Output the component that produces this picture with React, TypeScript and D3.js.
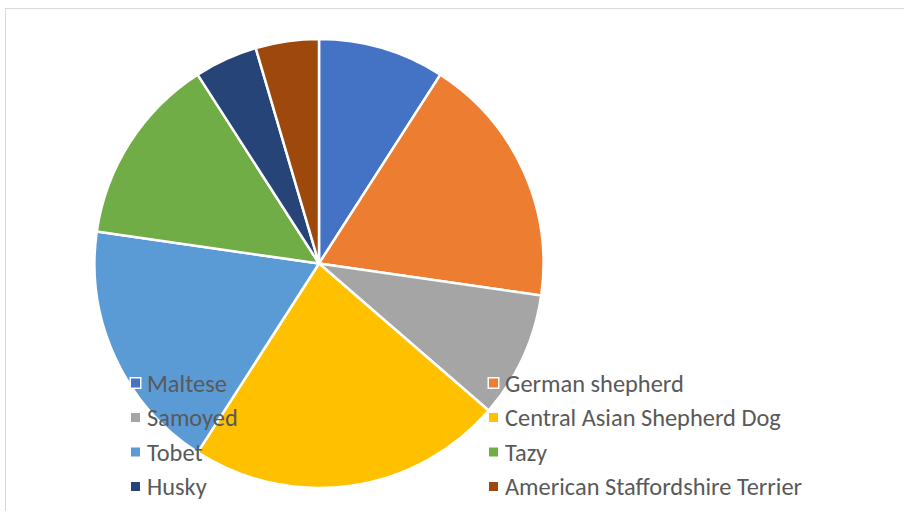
import React from "react";
import * as d3 from "d3";

const categories = [
  "Maltese",
  "German shepherd",
  "Samoyed",
  "Central Asian Shepherd Dog",
  "Tobet",
  "Tazy",
  "Husky",
  "American Staffordshire Terrier",
];
const values = [2, 4, 2, 5, 4, 3, 1, 1];
const colors = ["#4472C4", "#ED7D31", "#A5A5A5", "#FFC000", "#5B9BD5", "#70AD47", "#264478", "#9E480E"];

const W = 904;
const H = 511;

export default function App() {
  const cx = 319;
  const cy = 263.5;
  const r = 224.5;
  const pie = d3.pie<number>().sort(null).value((d) => d);
  const arcs = pie(values);
  const arc = d3.arc<d3.PieArcDatum<number>>().innerRadius(0).outerRadius(r);

  const legX = [131, 489];
  const legY0 = 383;
  const legDy = 34.5;

  return (
    <svg width={W} height={H} style={{ position: "absolute", left: 0, top: 0 }}>
      <rect x={0} y={0} width={W} height={H} fill="#fff" />
      <rect x={5.5} y={8.5} width={W + 10} height={H + 10} fill="#fff" stroke="#d9d9d9" strokeWidth={1} />
      <g transform={`translate(${cx},${cy})`}>
        {arcs.map((a, i) => (
          <path key={i} d={arc(a) || ""} fill={colors[i]} stroke="#fff" strokeWidth={2.5} strokeLinejoin="round" />
        ))}
      </g>
      <g fontFamily="Carlito, Calibri, Lato, sans-serif" fontSize={24.4} fill="#595959">
        {categories.map((c, i) => {
          const col = i % 2;
          const row = Math.floor(i / 2);
          const x = legX[col];
          const y = legY0 + row * legDy;
          return (
            <g key={c}>
              <rect x={x - 1.5} y={y - 6} width={12} height={12} fill="#fff" />
              <rect x={x} y={y - 4.5} width={9} height={9} fill={colors[i]} />
              <text x={x + 16} y={y} dy="0.35em">
                {c}
              </text>
            </g>
          );
        })}
      </g>
    </svg>
  );
}
